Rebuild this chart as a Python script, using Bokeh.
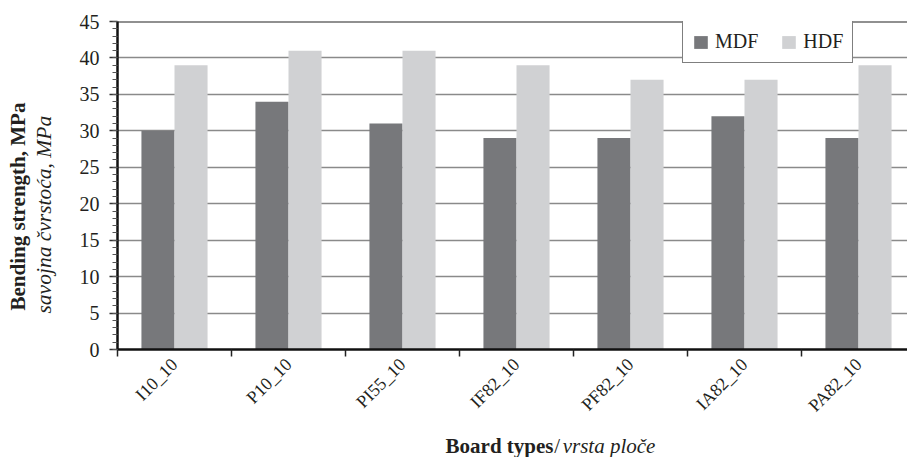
import numpy as np
from bokeh.plotting import figure
from bokeh.layouts import row, column
from bokeh.models import Range1d, FixedTicker, Span, Legend, LegendItem
from bokeh.core.properties import value
from bokeh.embed import file_html
from bokeh.resources import INLINE

categories = ["I10_10", "P10_10", "PI55_10", "IF82_10", "PF82_10", "IA82_10", "PA82_10"]
mdf = [30, 34, 31, 29, 29, 32, 29]
hdf = [39, 41, 41, 39, 37, 37, 39]
y_ticks = [0, 5, 10, 15, 20, 25, 30, 35, 40, 45]
series_names = ["MDF", "HDF"]
y_title_en = "Bending strength, MPa"
y_title_hr = "savojna čvrstoća, MPa"
x_title_en = "Board types"
x_title_sep = "/"
x_title_hr = "vrsta ploče"

MDF_C = "#77787b"
HDF_C = "#d0d1d3"
FONT = "Liberation Serif"
TXT = "#231f20"

W, H = 907, 457
LEFT_W = 57          # width of the y-title strip
P_H = 436            # height of main chart (x title strip below it)
centers = np.arange(len(categories)) + 0.5
bw = 0.29

# ---------------- main chart ----------------
p = figure(frame_width=790, frame_height=328, min_border_left=117 - LEFT_W, min_border_right=0,
           min_border_top=21, min_border_bottom=P_H - 349,
           x_range=Range1d(0, 790 / 114), y_range=Range1d(0, 45),
           output_backend="svg", toolbar_location=None, outline_line_color=None,
           background_fill_color="white", border_fill_color="white", align="start")

r1 = p.vbar(x=centers - bw / 2, top=mdf, width=bw, bottom=0, fill_color=MDF_C, line_color=None)
r2 = p.vbar(x=centers + bw / 2, top=hdf, width=bw, bottom=0, fill_color=HDF_C, line_color=None)

p.xaxis.ticker = FixedTicker(ticks=list(centers), minor_ticks=list(range(len(categories) + 1)))
p.xaxis.major_label_overrides = {float(c): n for c, n in zip(centers, categories)}
p.xaxis.major_label_orientation = np.pi / 4
p.xaxis.major_tick_out = 0
p.xaxis.major_tick_in = 0
p.xaxis.minor_tick_out = 7
p.xaxis.minor_tick_in = 0
p.xaxis.minor_tick_line_color = "#222222"
p.xaxis.minor_tick_line_width = 1.5
p.xaxis.axis_line_color = "#111111"
p.xaxis.axis_line_width = 2.5
p.xaxis.major_label_text_font = FONT
p.xaxis.major_label_text_font_size = "18px"
p.xaxis.major_label_text_color = TXT
p.xaxis.major_label_standoff = 5

p.yaxis.ticker = FixedTicker(ticks=y_ticks, minor_ticks=list(range(0, 46)))
p.yaxis.major_tick_out = 8
p.yaxis.major_tick_in = 0
p.yaxis.minor_tick_out = 5
p.yaxis.minor_tick_in = 0
p.yaxis.major_tick_line_color = "#333333"
p.yaxis.minor_tick_line_color = "#555555"
p.yaxis.major_tick_line_width = 1.5
p.yaxis.minor_tick_line_width = 1.2
p.yaxis.axis_line_color = "#111111"
p.yaxis.axis_line_width = 2.5
p.yaxis.major_label_text_font = FONT
p.yaxis.major_label_text_font_size = "20px"
p.yaxis.major_label_text_color = TXT
p.yaxis.major_label_standoff = 10

p.xgrid.visible = False
p.ygrid.ticker = FixedTicker(ticks=y_ticks)
p.ygrid.grid_line_color = "#8a8a8a"
p.ygrid.grid_line_width = 1.5

p.add_layout(Span(location=45, dimension="width", line_color="#222222", line_width=2))

legend = Legend(items=[LegendItem(label=series_names[0], renderers=[r1]),
                       LegendItem(label=series_names[1], renderers=[r2])],
                orientation="horizontal", location=(565, 286), border_line_color="black",
                border_line_width=1, background_fill_color="white", background_fill_alpha=1,
                label_text_font=FONT, label_text_font_size="20px", label_text_color=TXT,
                glyph_width=17, glyph_height=16, label_height=20, padding=9, margin=0,
                spacing=22, label_standoff=6)
p.add_layout(legend, "center")


def blank(width, height, xr, yr):
    f = figure(width=width, height=height, x_range=Range1d(*xr), y_range=Range1d(*yr),
               x_axis_type=None, y_axis_type=None, min_border=0, output_backend="svg",
               toolbar_location=None, outline_line_color=None,
               background_fill_color="white", border_fill_color="white", align="start")
    f.grid.visible = False
    return f


# ---------------- y title strip ----------------
yfig = blank(LEFT_W, H, (0, LEFT_W), (H, 0))
yfig.text(x=[17], y=[310], text=[y_title_en], angle=np.pi / 2, text_align="left",
          text_baseline="alphabetic", text_font=value(FONT), text_font_style="bold",
          text_font_size="21px", text_color=TXT)
yfig.text(x=[43], y=[313], text=[y_title_hr], angle=np.pi / 2, text_align="left",
          text_baseline="alphabetic", text_font=value(FONT), text_font_style="italic",
          text_font_size="21.5px", text_color=TXT)

# ---------------- x title strip ----------------
xfig = blank(W - LEFT_W, H - P_H, (LEFT_W, W), (H, P_H))
xfig.text(x=[410], y=[445], text=[x_title_en], text_align="left", text_baseline="alphabetic",
          text_font=value(FONT), text_font_style="bold", text_font_size="21px", text_color=TXT)
xfig.text(x=[527], y=[445], text=[x_title_sep], text_align="left", text_baseline="alphabetic",
          text_font=value(FONT), text_font_size="21px", text_color=TXT)
xfig.text(x=[536], y=[445], text=[x_title_hr], text_align="left", text_baseline="alphabetic",
          text_font=value(FONT), text_font_style="italic", text_font_size="21px", text_color=TXT)

layout = row(yfig, column(p, xfig, spacing=0, align="start"), spacing=0, align="start")

open("out.html", "w").write(file_html(layout, INLINE))
